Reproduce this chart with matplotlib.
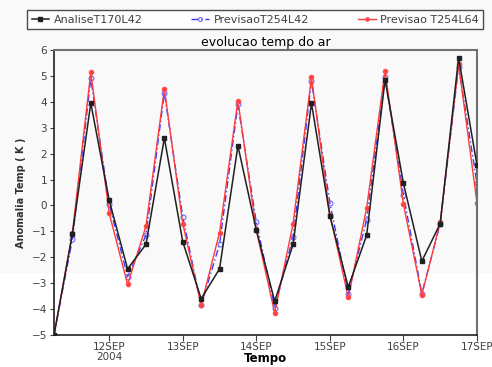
import numpy as np
import pandas as pd
import matplotlib
matplotlib.use('Agg')
import matplotlib.pyplot as plt

# 6-hourly series, 11SEP 06Z .. 17SEP 00Z
times = pd.date_range('2004-09-11 06:00', periods=24, freq='6h')

analise = [-5.0, -1.1, 3.95, 0.2, -2.45, -1.5, 2.6, -1.4, -3.6, -2.45, 2.3, -0.95,
           -3.7, -1.5, 3.95, -0.4, -3.15, -1.15, 4.85, 0.85, -2.15, -0.7, 5.7, 1.55]
prev_l42 = [-5.0, -1.3, 4.9, 0.05, -2.75, -1.15, 4.35, -0.45, -3.85, -1.5, 3.9, -0.65,
            -3.95, -1.2, 4.8, 0.1, -3.4, -0.55, 4.95, 0.4, -3.4, -0.7, 5.35, 0.85]
prev_l64 = [-5.0, -1.05, 5.15, -0.3, -3.05, -0.8, 4.5, -0.7, -3.85, -1.05, 4.05, -0.95,
            -4.15, -0.7, 4.95, -0.35, -3.55, -0.1, 5.2, 0.05, -3.45, -0.65, 5.45, 0.1]

tick_days = pd.date_range('2004-09-12', '2004-09-17', freq='D')
tick_labels = ['12SEP\n2004', '13SEP', '14SEP', '15SEP', '16SEP', '17SEP']

fig = plt.figure(figsize=(4.92, 3.67), dpi=100)
# faint grey tint on the upper part of the image
fig.patches.append(plt.Rectangle((0, 0.258), 1, 0.742, transform=fig.transFigure,
                                 color='#f9f9f9', zorder=-10))
ax = fig.add_axes([0.1098, 0.0872, 0.8597, 0.7766])
ax.set_facecolor('none')

ax.plot(times, analise, color='#202020', lw=1.1, marker='s', ms=3,
        label='AnaliseT170L42', zorder=3)
ax.plot(times, prev_l42, color='#3a3aff', lw=1.0, ls=(0, (5, 2, 1, 2)), marker='o',
        ms=3.5, mfc='none', mec='#6a6aff', mew=0.8, label='PrevisaoT254L42', zorder=2)
ax.plot(times, prev_l64, color='#ff3a3a', lw=1.0, marker='o', ms=3,
        mec='#ff5050', label='Previsao T254L64', zorder=2)

ax.set_xlim(times[0], times[-1])
ax.set_ylim(-5, 6)
ax.set_yticks(np.arange(-5, 7, 1))
ax.set_xticks(tick_days)
ax.set_xticklabels(tick_labels, linespacing=1.0)
ax.tick_params(labelsize=7.5, colors='#404040', length=3, direction='out', pad=2)
ax.tick_params(axis='x', length=4, pad=1)

for s in ['left', 'bottom']:
    ax.spines[s].set_color('#202020')
    ax.spines[s].set_linewidth(1.2)
ax.spines['top'].set_color('#707070')
ax.spines['top'].set_linewidth(1.5)
ax.spines['right'].set_color('#707070')
ax.spines['right'].set_linewidth(1.5)

ax.set_title('evolucao temp do ar', fontsize=9, pad=3)
ax.set_xlabel('Tempo', fontsize=8.5, fontweight='bold', va='center')
ax.xaxis.set_label_coords(0.5, -0.084)
ax.set_ylabel('Anomalia Temp ( K )', fontsize=7, fontweight='bold', color='#303030', labelpad=4)

leg = fig.legend(loc='lower left', bbox_to_anchor=(0.055, 0.92, 0.927, 0.055),
                 mode='expand', ncol=3, fontsize=8, frameon=True, fancybox=False,
                 edgecolor='#202020', handlelength=1.6, handletextpad=0.4,
                 borderpad=0.4, markerscale=0.8, borderaxespad=0)
leg.get_frame().set_linewidth(1.0)
for t in leg.get_texts():
    t.set_color('#404040')

fig.savefig('out.png', dpi=100)
